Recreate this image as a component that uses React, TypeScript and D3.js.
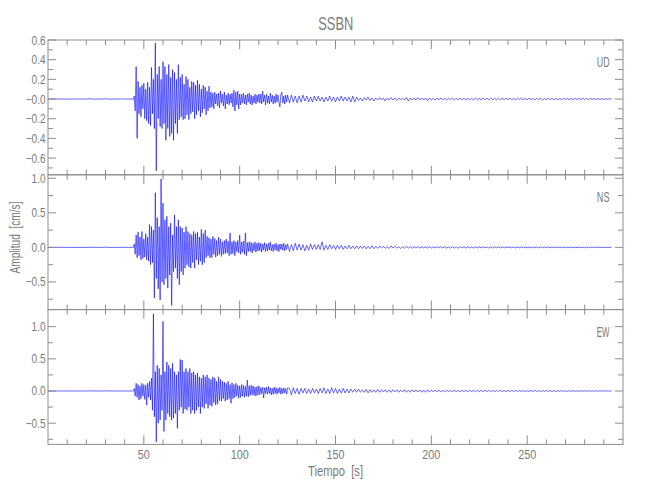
import React from "react";
import * as d3 from "d3";

// ---------------- data ----------------
const title = "SSBN";
const channels = ["UD", "NS", "EW"];

// pre-event noise, every 2 s from 0 s
const PRE_START = 0;
const PRE_STEP = 2;
const udPre = [0, 0, 0.001, 0, 0, -0.001, 0, 0, 0, 0, 0, 0.003, -0.002, 0, 0, 0.003, -0.002, 0, 0, 0.001, 0, 0, 0];
const nsPre = [0, 0, 0, 0.001, 0, 0, 0, -0.001, 0, 0, 0, 0.002, 0, 0, 0, 0.003, 0, 0, 0, 0, 0.001, 0, 0];
const ewPre = [0, 0, 0, 0, 0.001, 0, 0, 0, 0, -0.001, 0, 0.002, 0, 0, 0, 0.002, 0, 0, 0, 0, 0, 0, 0];

// strong motion, every 0.5 s from 44.5 s to 125 s
const EVENT_START = 44.5;
const EVENT_STEP = 0.5;
const udEvent = [
  0,
  0.03, -0.12, 0.33, -0.4, 0.18, -0.15, 0.12, -0.18,
  0.14, -0.1, 0.16, -0.2, 0.1, -0.22, 0.17, -0.25,
  0.12, -0.27, 0.32, -0.15, 0.2, -0.3, 0.57, -0.73,
  0.25, -0.2, 0.33, -0.28, 0.2, -0.3, 0.38, -0.25,
  0.33, -0.42, 0.25, -0.3, 0.35, -0.38, 0.22, -0.35,
  0.3, -0.42, 0.27, -0.25, 0.2, -0.35, 0.35, -0.21,
  0.22, -0.18, 0.25, -0.21, 0.15, -0.2, 0.23, -0.16,
  0.2, -0.21, 0.12, -0.15, 0.18, -0.13, 0.17, -0.2,
  0.14, -0.16, 0.19, -0.12, 0.15, -0.18, 0.1, -0.14,
  0.14, -0.1, 0.12, -0.16, 0.08, -0.12, 0.13, -0.09,
  0.07, -0.08, 0.06, -0.1, 0.07, -0.05, 0.05, -0.07,
  0.06, -0.09, 0.08, -0.04, 0.05, -0.07, 0.07, -0.1,
  0.04, -0.05, 0.06, -0.06, 0.05, -0.04, 0.06, -0.08,
  0.09, -0.12, 0.07, -0.06, 0.08, -0.1, 0.05, -0.06,
  0.05, -0.04, 0.06, -0.05, 0.04, -0.06, 0.05, -0.03,
  0.06, -0.05, 0.04, -0.06, 0.03, -0.04, 0.05, -0.05,
  0.04, -0.03, 0.05,
  -0.04, 0.05, -0.05, 0.08, -0.03, 0.04, -0.06, 0.05, -0.04, 0.03,
  -0.05, 0.06, -0.03, 0.04, -0.05, 0.03, -0.04, 0.05, -0.03, 0.04,
  -0.03, -0.08, 0.05, 0.07, -0.04, 0.03, -0.05, 0.04, -0.03, 0.04,
];
const nsEvent = [
  0,
  0.05, -0.1, 0.18, -0.15, 0.22, -0.12, 0.15, -0.18,
  0.23, -0.16, 0.12, -0.14, 0.2, -0.18, 0.15, -0.2,
  0.33, -0.25, 0.3, -0.22, 0.25, -0.73, 0.79, -0.45,
  0.43, -0.6, 0.3, -0.76, 0.99, -0.5, 0.64, -0.54,
  0.4, -0.45, 0.45, -0.59, 0.3, -0.4, 0.35, -0.84,
  0.18, -0.35, 0.47, -0.3, 0.3, -0.45, 0.4, -0.54,
  0.3, -0.35, 0.28, -0.4, 0.22, -0.3, 0.3, -0.25,
  0.23, -0.28, 0.2, -0.3, 0.18, -0.22, 0.23, -0.3,
  0.2, -0.18, 0.22, -0.25, 0.15, -0.2, 0.26, -0.25,
  0.2, -0.22, 0.25, -0.15, 0.16, -0.12, 0.14, -0.15,
  0.12, -0.15, 0.16, -0.1, 0.13, -0.14, 0.1, -0.12,
  0.15, -0.1, 0.12, -0.13, 0.08, -0.1, 0.1, -0.09,
  0.12, -0.08, 0.09, -0.12, 0.21, -0.1, 0.08, -0.09,
  0.1, -0.12, 0.08, -0.06, 0.1, -0.08, 0.18, -0.1,
  0.08, -0.07, 0.09, -0.1, 0.21, -0.12, 0.07, -0.06,
  0.08, -0.06, 0.07, -0.08, 0.06, -0.05, 0.08, -0.07,
  0.06, -0.05, 0.07,
  -0.05, 0.06, -0.07, 0.05, -0.04, 0.07, -0.06, 0.05, -0.05, 0.06,
  -0.04, 0.08, -0.05, 0.04, -0.06, 0.05, -0.04, 0.06, -0.05, 0.04,
  -0.06, 0.05, -0.03, 0.05, -0.04, 0.06, -0.05, 0.04, -0.03, 0.05,
];
const ewEvent = [
  0,
  0.04, -0.08, 0.12, -0.1, 0.1, -0.14, 0.08, -0.12,
  0.12, -0.08, 0.1, -0.13, 0.09, -0.22, 0.12, -0.1,
  0.15, -0.14, 0.2, -0.3, 1.2, -0.4, 0.3, -0.79,
  0.4, -0.5, 0.35, -0.45, 0.25, -0.3, 1.08, -0.63,
  0.3, -0.45, 0.45, -0.35, 0.4, -0.4, 0.35, -0.45,
  0.43, -0.42, 0.3, -0.35, 0.25, -0.58, 0.3, -0.3,
  0.49, -0.25, 0.48, -0.35, 0.3, -0.28, 0.35, -0.3,
  0.3, -0.25, 0.35, -0.35, 0.28, -0.3, 0.3, -0.35,
  0.25, -0.3, 0.28, -0.25, 0.22, -0.35, 0.2, -0.25,
  0.25, -0.27, 0.22, -0.2, 0.25, -0.27, 0.2, -0.22,
  0.18, -0.24, 0.22, -0.18, 0.2, -0.22, 0.15, -0.2,
  0.22, -0.15, 0.18, -0.16, 0.15, -0.12, 0.14, -0.16,
  0.12, -0.14, 0.15, -0.12, 0.1, -0.19, 0.13, -0.12,
  0.1, -0.1, 0.12, -0.08, 0.09, -0.11, 0.08, -0.1,
  0.1, -0.08, 0.09, -0.1, 0.07, -0.08, 0.17, -0.09,
  0.08, -0.07, 0.09, -0.06, 0.08, -0.07, 0.06, -0.08,
  0.07, -0.06, 0.08,
  -0.06, 0.05, -0.04, 0.06, -0.11, 0.05, -0.04, 0.06, -0.05, 0.07,
  -0.04, 0.05, -0.06, 0.04, -0.05, 0.06, -0.04, 0.05, -0.05, 0.04,
  -0.03, 0.06, -0.05, 0.04, -0.04, 0.05, -0.03, 0.04, -0.05, 0.05,
];

// coda, every 1 s from 126 s
const CODA_START = 126;
const CODA_STEP = 1;
const udCoda = [
  -0.04, 0.04, -0.03, 0.03, -0.04,
  0.03, -0.03, 0.04, -0.02, 0.03, -0.03, 0.02, -0.03, 0.03, -0.02,
  0.03, -0.02, 0.02, -0.03, 0.02, -0.02, 0.03, -0.02, 0.02, -0.03,
  0.02, -0.02, 0.03, -0.02, 0.02, -0.02, 0.02, -0.03, 0.03, -0.03,
  0.02, -0.015, 0.01, -0.02, 0.015, -0.01, 0.02, -0.015, 0.01, -0.02,
  0.01, -0.01, 0.015, -0.01, 0.01, -0.02, 0.01, -0.01, 0.015, -0.01,
  0.01, -0.015, 0.01, -0.01, 0.01, -0.01, 0.015, -0.02, 0.01, -0.01,
  0.01, -0.01, 0.015, -0.01, 0.01, -0.01, 0.01, -0.015, 0.01, -0.01,
  0.008, -0.01, 0.01, -0.008, 0.012, -0.01, 0.008, -0.01, 0.01, -0.008,
  0.01, -0.012, 0.008, -0.01, 0.008, -0.008, 0.01, -0.01, 0.008, -0.01,
  0.008, -0.008, 0.01, -0.008, 0.008, -0.01, 0.012, -0.008, 0.008, -0.008,
  0.01, -0.008, 0.008, -0.01, 0.008, -0.006, 0.008, -0.008, 0.01, -0.006,
  0.008, -0.008, 0.006, -0.008, 0.01, -0.006, 0.008, -0.006, 0.006, -0.008,
  0.008, -0.006, 0.006, -0.008, 0.006, -0.006, 0.008, -0.01, 0.006, -0.006,
  0.008, -0.006, 0.006, -0.006, 0.006, -0.008, 0.006, -0.006, 0.008, -0.006,
  0.006, -0.006, 0.005, -0.006, 0.006, -0.005, 0.006, -0.006, 0.008, -0.005,
  0.005, -0.006, 0.005, -0.005, 0.006, -0.005, 0.005, -0.005, 0.005, -0.004,
  0.004, -0.004, 0.003, 0,
];
const nsCoda = [
  -0.06, 0.04, -0.05, 0.06, -0.04,
  0.05, -0.04, 0.04, -0.05, 0.03, -0.04, 0.05, -0.03, 0.04, -0.03,
  0.04, -0.03, 0.08, -0.04, 0.03, -0.03, 0.04, -0.02, 0.03, -0.03,
  0.03, -0.02, 0.03, -0.03, 0.02, -0.02, 0.03, -0.02, 0.02, -0.02,
  0.02, -0.02, 0.02, -0.015, 0.02, -0.02, 0.015, -0.02, 0.025, -0.02,
  0.015, -0.015, 0.02, -0.01, 0.015, -0.015, 0.01, -0.015, 0.02, -0.01,
  0.015, -0.01, 0.01, -0.015, 0.01, -0.01, 0.015, -0.01, 0.01, -0.012,
  0.01, -0.01, 0.012, -0.01, 0.01, -0.008, 0.01, -0.01, 0.012, -0.01,
  0.01, -0.008, 0.01, -0.01, 0.012, -0.008, 0.01, -0.01, 0.008, -0.01,
  0.01, -0.01, 0.008, -0.012, 0.01, -0.008, 0.008, -0.01, 0.01, -0.008,
  0.008, -0.01, 0.01, -0.008, 0.008, -0.008, 0.01, -0.008, 0.008, -0.01,
  0.008, -0.008, 0.01, -0.006, 0.008, -0.008, 0.006, -0.008, 0.008, -0.006,
  0.008, -0.006, 0.006, -0.008, 0.006, -0.006, 0.008, -0.006, 0.006, -0.006,
  0.006, -0.008, 0.006, -0.006, 0.006, -0.006, 0.008, -0.006, 0.006, -0.005,
  0.006, -0.005, 0.006, -0.006, 0.005, -0.006, 0.005, -0.005, 0.006, -0.005,
  0.005, -0.005, 0.005, -0.006, 0.005, -0.004, 0.005, -0.005, 0.004, -0.005,
  0.004, -0.004, 0.005, -0.004, 0.004, -0.004, 0.004, -0.003, 0.004, -0.003,
  0.003, -0.003, 0.002, 0,
];
const ewCoda = [
  0.04, -0.06, 0.05, -0.04, 0.04,
  -0.05, 0.04, -0.03, 0.04, -0.04, 0.03, -0.04, 0.04, -0.03, 0.03,
  -0.04, 0.04, -0.03, 0.05, -0.04, 0.03, -0.04, 0.05, -0.03, 0.04,
  -0.04, 0.03, -0.03, 0.04, -0.03, 0.03, -0.03, 0.03, -0.02, 0.03,
  -0.02, 0.03, -0.02, 0.02, -0.02, 0.025, -0.03, 0.02, -0.02, 0.02,
  -0.02, 0.025, -0.02, 0.02, -0.015, 0.02, -0.02, 0.015, -0.02, 0.02,
  -0.015, 0.02, -0.02, 0.015, -0.015, 0.02, -0.02, 0.015, -0.02, 0.02,
  -0.015, 0.02, -0.015, 0.015, -0.02, 0.015, -0.02, 0.02, -0.015, 0.01,
  -0.01, 0.01, -0.008, 0.01, -0.01, 0.008, -0.01, 0.012, -0.01, 0.008,
  -0.01, 0.012, -0.01, 0.01, -0.012, 0.01, -0.008, 0.01, -0.01, 0.012,
  -0.01, 0.01, -0.012, 0.01, -0.01, 0.012, -0.01, 0.01, -0.008, 0.01,
  -0.01, 0.008, -0.01, 0.01, -0.008, 0.01, -0.008, 0.008, -0.01, 0.008,
  -0.008, 0.01, -0.008, 0.008, -0.006, 0.008, -0.008, 0.006, -0.008, 0.006,
  -0.006, 0.008, -0.01, 0.012, -0.008, 0.006, -0.008, 0.006, -0.006, 0.008,
  -0.006, 0.006, -0.008, 0.006, -0.006, 0.006, -0.005, 0.006, -0.006, 0.005,
  -0.006, 0.005, -0.005, 0.006, -0.005, 0.005, -0.006, 0.005, -0.005, 0.005,
  -0.005, 0.005, -0.004, 0.005, -0.005, 0.004, -0.004, 0.004, -0.004, 0.004,
  -0.003, 0.003, -0.002, 0,
];

// axes
const xDomain = [0, 300];
const xMajorTicks = [50, 100, 150, 200, 250];
const xMajorLabels = ["50", "100", "150", "200", "250"];
const xMinorStep = 10;

const udDomain = [-0.77, 0.6];
const nsDomain = [-0.9, 1.05];
const ewDomain = [-0.83, 1.265];

const udTickValues = [0.6, 0.4, 0.2, 0, -0.2, -0.4, -0.6];
const udTickLabels = ["0.6", "0.4", "0.2", "\u22120.0", "\u22120.2", "\u22120.4", "\u22120.6"];
const udMinor = [0.5, 0.3, 0.1, -0.1, -0.3, -0.5, -0.7];
const nsTickValues = [1.0, 0.5, 0, -0.5];
const nsTickLabels = ["1.0", "0.5", "0.0", "\u22120.5"];
const nsMinor = [0.75, 0.25, -0.25, -0.75];
const ewTickValues = [1.0, 0.5, 0, -0.5];
const ewTickLabels = ["1.0", "0.5", "0.0", "\u22120.5"];
const ewMinor = [0.75, 0.25, -0.25, -0.75];

const xTitle = "Tiempo  [s]";
const yTitle = "Amplitud  [cm/s]";

// ---------------- layout ----------------
const W = 650;
const H = 500;
const LEFT = 48;
const RIGHT = 623;
const TOP = 40;
const BOTTOM = 444.4;
const PH = (BOTTOM - TOP) / 3;
const FONT = "'Liberation Sans', Arial, sans-serif";
const AXIS = "#8c8c8c";
const TEXT = "#7a7a7a";
const TRACE = "#0000ff";
const TICK_SCALE = 0.8;

function buildSeries(pre: number[], ev: number[], coda: number[]) {
  const pts: [number, number][] = [];
  pre.forEach((v, i) => pts.push([PRE_START + i * PRE_STEP, v]));
  ev.forEach((v, i) => pts.push([EVENT_START + i * EVENT_STEP, v]));
  coda.forEach((v, i) => pts.push([CODA_START + i * CODA_STEP, v]));
  return pts;
}

const panels = [
  { name: channels[0], series: buildSeries(udPre, udEvent, udCoda), domain: udDomain, ticks: udTickValues, labels: udTickLabels, minor: udMinor },
  { name: channels[1], series: buildSeries(nsPre, nsEvent, nsCoda), domain: nsDomain, ticks: nsTickValues, labels: nsTickLabels, minor: nsMinor },
  { name: channels[2], series: buildSeries(ewPre, ewEvent, ewCoda), domain: ewDomain, ticks: ewTickValues, labels: ewTickLabels, minor: ewMinor },
];

function NarrowText(props: { x: number; y: number; anchor: "start" | "middle" | "end"; size: number; sx: number; dy?: string; children: any }) {
  return (
    <text
      transform={`translate(${props.x},${props.y}) scale(${props.sx},1)`}
      textAnchor={props.anchor}
      dy={props.dy}
      fontFamily={FONT}
      fontSize={props.size}
      fill={TEXT}
    >
      {props.children}
    </text>
  );
}

export default function App() {
  const x = d3.scaleLinear().domain(xDomain).range([LEFT, RIGHT]);
  const xMinor = d3.range(xMinorStep, xDomain[1], xMinorStep).filter((v) => !xMajorTicks.includes(v));

  return (
    <svg width={W} height={H} style={{ display: "block", position: "absolute", left: 0, top: 0, background: "#fff" }}>
      <rect x={0} y={0} width={W} height={H} fill="#fff" />
      <text x={335.8} y={30} textAnchor="middle" fontFamily={FONT} fontSize={19} fill={TEXT} textLength={35} lengthAdjust="spacingAndGlyphs">
        {title}
      </text>
      {panels.map((p, pi) => {
        const top = TOP + pi * PH;
        const bot = top + PH;
        const y = d3.scaleLinear().domain(p.domain).range([bot, top]);
        const line = d3
          .line<[number, number]>()
          .x((d) => x(d[0]))
          .y((d) => y(d[1]));
        return (
          <g key={p.name}>
            <path d={line(p.series) || ""} fill="none" stroke={TRACE} strokeWidth={0.6} />
            {xMajorTicks.map((t) => (
              <g key={"xm" + t}>
                <line x1={x(t)} x2={x(t)} y1={top} y2={top + 9} stroke={AXIS} strokeWidth={1} />
                <line x1={x(t)} x2={x(t)} y1={bot} y2={bot - 9} stroke={AXIS} strokeWidth={1} />
              </g>
            ))}
            {xMinor.map((t) => (
              <g key={"xn" + t}>
                <line x1={x(t)} x2={x(t)} y1={top} y2={top + 5} stroke={AXIS} strokeWidth={1} />
                <line x1={x(t)} x2={x(t)} y1={bot} y2={bot - 5} stroke={AXIS} strokeWidth={1} />
              </g>
            ))}
            {p.ticks.map((v, i) => (
              <g key={"ym" + i}>
                <line x1={LEFT} x2={LEFT + 8} y1={y(v)} y2={y(v)} stroke={AXIS} strokeWidth={1} />
                <line x1={RIGHT} x2={RIGHT - 8} y1={y(v)} y2={y(v)} stroke={AXIS} strokeWidth={1} />
                <NarrowText x={45.5} y={y(v)} dy="0.36em" anchor="end" size={12.5} sx={TICK_SCALE}>
                  {p.labels[i]}
                </NarrowText>
              </g>
            ))}
            {p.minor
              .filter((v) => v > p.domain[0] && v < p.domain[1])
              .map((v, i) => (
                <g key={"yn" + i}>
                  <line x1={LEFT} x2={LEFT + 5} y1={y(v)} y2={y(v)} stroke={AXIS} strokeWidth={1} />
                  <line x1={RIGHT} x2={RIGHT - 5} y1={y(v)} y2={y(v)} stroke={AXIS} strokeWidth={1} />
                </g>
              ))}
            <rect x={LEFT} y={top} width={RIGHT - LEFT} height={PH} fill="none" stroke={AXIS} strokeWidth={1} />
            <text x={609.5} y={top + 27} textAnchor="end" fontFamily={FONT} fontSize={14.5} fill={TEXT} textLength={12.7} lengthAdjust="spacingAndGlyphs">
              {p.name}
            </text>
          </g>
        );
      })}
      {xMajorTicks.map((t, i) => (
        <NarrowText key={"xl" + t} x={x(t)} y={458.5} anchor="middle" size={13.5} sx={TICK_SCALE}>
          {xMajorLabels[i]}
        </NarrowText>
      ))}
      <text x={335.5} y={475.5} textAnchor="middle" fontFamily={FONT} fontSize={14} fill={TEXT} textLength={55} lengthAdjust="spacingAndGlyphs" style={{ whiteSpace: "pre" }}>
        {xTitle}
      </text>
      <text
        transform={`translate(20, 237.5) rotate(-90)`}
        textAnchor="middle"
        fontFamily={FONT}
        fontSize={14}
        fill={TEXT}
        textLength={72}
        lengthAdjust="spacingAndGlyphs"
        style={{ whiteSpace: "pre" }}
      >
        {yTitle}
      </text>
    </svg>
  );
}
